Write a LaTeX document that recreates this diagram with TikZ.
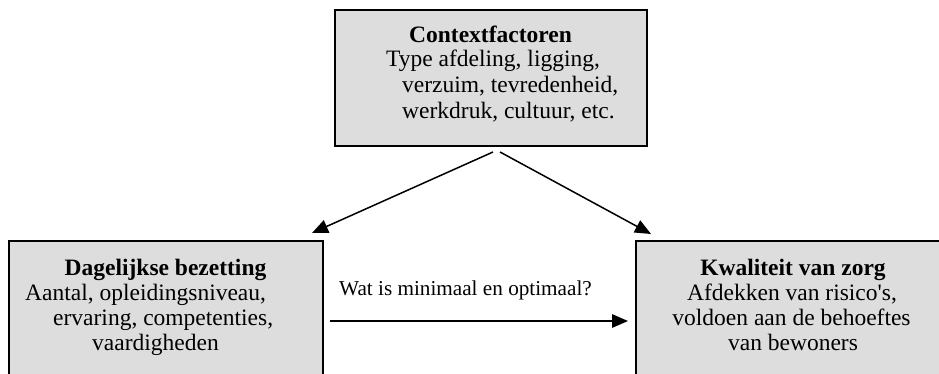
\documentclass[tikz,border=0pt]{standalone}
\usepackage{fontspec}
\newfontfamily\tnr{Liberation Serif}
\usetikzlibrary{arrows.meta}
\definecolor{boxgray}{RGB}{221,221,221}
\begin{document}
\begin{tikzpicture}[x=1pt,y=-1pt,
  box/.style={draw=black, line width=2pt, fill=boxgray, rectangle, inner sep=0pt, outer sep=0pt},
  txt/.style={inner sep=0pt, font=\tnr\fontsize{23.5}{26}\selectfont},
  ttl/.style={inner sep=0pt, font=\tnr\bfseries\fontsize{23.5}{26}\selectfont},
  lbl/.style={inner sep=0pt, font=\tnr\fontsize{21.2}{24}\selectfont},
  arr/.style={line width=1.5pt, -{Triangle[length=16pt,width=13.5pt]}}]
\useasboundingbox (0,0) rectangle (939,374);
\clip (0,0) rectangle (939,374);
\fill[white] (0,0) rectangle (939,374);
% boxes
\node[box, minimum width=312pt, minimum height=136pt] (ctx) at (491,78) {};
\node[box, minimum width=314pt, minimum height=160pt] (day) at (166,321) {};
\node[box, minimum width=312pt, minimum height=160pt] (kz) at (792,321) {};
% top box text
\node[ttl, anchor=base] (c1) at (490.5,43) {Contextfactoren};
\node[txt, anchor=base west] (c2) at (386,67) {Type afdeling, ligging,};
\node[txt, anchor=base west] (c3) at (402,93) {verzuim, tevredenheid,};
\node[txt, anchor=base west] (c4) at (402,119) {werkdruk, cultuur, etc.};
% left box text
\node[ttl, anchor=base] (d1) at (165.5,275) {Dagelijkse bezetting};
\node[txt, anchor=base west] (d2) at (25,300) {Aantal, opleidingsniveau,};
\node[txt, anchor=base west] (d3) at (53,325) {ervaring, competenties,};
\node[txt, anchor=base west] (d4) at (92,350) {vaardigheden};
% right box text
\node[ttl, anchor=base] (k1) at (793,275) {Kwaliteit van zorg};
\node[txt, anchor=base] (k2) at (792,300) {Afdekken van risico's,};
\node[txt, anchor=base] (k3) at (791.5,325) {voldoen aan de behoeftes};
\node[txt, anchor=base] (k4) at (793,350) {van bewoners};
% label
\node[lbl, anchor=base west] (q) at (339,295) {Wat is minimaal en optimaal?};
% arrows
\draw[arr] ([shift={(2,6)}]ctx.south) -- ([shift={(-11,-8)}]day.north east);
\draw[arr] ([shift={(9,6)}]ctx.south) -- ([shift={(15,-7)}]kz.north west);
\draw[arr] ([xshift=7pt]day.east) -- ([xshift=-8pt]kz.west);
\end{tikzpicture}
\end{document}
